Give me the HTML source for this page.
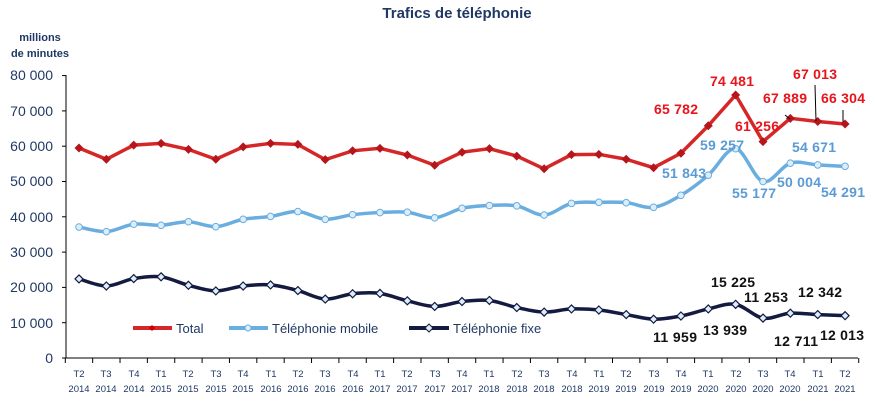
<!DOCTYPE html>
<html><head><meta charset="utf-8"><style>
body{margin:0;background:#fff}
svg{display:block;font-family:"Liberation Sans",sans-serif}
.yt{font-size:14px;fill:#1f3864;text-anchor:end}
.xt{font-size:9.5px;fill:#1f3864;text-anchor:middle}
.r{fill:#e8141c;font-weight:bold;font-size:14px}
.b{fill:#5b9bd5;font-weight:bold;font-size:14px}
.k{fill:#111;font-weight:bold;font-size:14px}
.lg{font-size:13px;fill:#1f3864}
</style></head><body>
<svg id="s" width="875" height="402" viewBox="0 0 875 402">
<text x="457" y="18" text-anchor="middle" font-weight="bold" font-size="15" fill="#1f3864">Trafics de téléphonie</text>
<text x="40" y="41" text-anchor="middle" font-weight="bold" font-size="11" fill="#1f3864">millions</text>
<text x="40" y="57" text-anchor="middle" font-weight="bold" font-size="11" fill="#1f3864">de minutes</text>
<g class="yt">
<text x="53" y="80">80 000</text><text x="53" y="116">70 000</text><text x="53" y="151">60 000</text><text x="53" y="186">50 000</text><text x="53" y="222">40 000</text><text x="53" y="257">30 000</text><text x="53" y="292">20 000</text><text x="53" y="328">10 000</text><text x="53" y="363">0</text>
</g>
<g id="ax" stroke="#000" stroke-width="1"></g>
<g class="xt" id="xl">
<text x="79" y="377">T2</text><text x="106" y="377">T3</text><text x="134" y="377">T4</text><text x="161" y="377">T1</text><text x="188" y="377">T2</text><text x="216" y="377">T3</text><text x="243" y="377">T4</text><text x="271" y="377">T1</text><text x="298" y="377">T2</text><text x="325" y="377">T3</text><text x="353" y="377">T4</text><text x="380" y="377">T1</text><text x="407" y="377">T2</text><text x="435" y="377">T3</text><text x="462" y="377">T4</text><text x="489" y="377">T1</text><text x="517" y="377">T2</text><text x="544" y="377">T3</text><text x="572" y="377">T4</text><text x="599" y="377">T1</text><text x="626" y="377">T2</text><text x="654" y="377">T3</text><text x="681" y="377">T4</text><text x="708" y="377">T1</text><text x="736" y="377">T2</text><text x="763" y="377">T3</text><text x="790" y="377">T4</text><text x="818" y="377">T1</text><text x="845" y="377">T2</text>
<text x="79" y="392">2014</text><text x="106" y="392">2014</text><text x="134" y="392">2014</text><text x="161" y="392">2015</text><text x="188" y="392">2015</text><text x="216" y="392">2015</text><text x="243" y="392">2015</text><text x="271" y="392">2016</text><text x="298" y="392">2016</text><text x="325" y="392">2016</text><text x="353" y="392">2016</text><text x="380" y="392">2017</text><text x="407" y="392">2017</text><text x="435" y="392">2017</text><text x="462" y="392">2017</text><text x="489" y="392">2018</text><text x="517" y="392">2018</text><text x="544" y="392">2018</text><text x="572" y="392">2018</text><text x="599" y="392">2019</text><text x="626" y="392">2019</text><text x="654" y="392">2019</text><text x="681" y="392">2019</text><text x="708" y="392">2020</text><text x="736" y="392">2020</text><text x="763" y="392">2020</text><text x="790" y="392">2020</text><text x="818" y="392">2021</text><text x="845" y="392">2021</text>
</g>
<g id="ser"></g>
<line x1="133" y1="328" x2="172" y2="328" stroke="#d62728" stroke-width="4"/><path d="M152 325l3 3-3 3-3-3z" fill="#c00"/>
<text class="lg" x="176" y="333">Total</text>
<line x1="229" y1="328" x2="268" y2="328" stroke="#6aaee0" stroke-width="4"/><circle cx="248" cy="328" r="3" fill="#dceefa" stroke="#6aaee0"/>
<text class="lg" x="272" y="333">Téléphonie mobile</text>
<line x1="409" y1="328" x2="449" y2="328" stroke="#141a40" stroke-width="4"/><path d="M429 324l4 4-4 4-4-4z" fill="#dceefa" stroke="#141a40"/>
<text class="lg" x="453" y="333">Téléphonie fixe</text>
<g lengthAdjust="spacingAndGlyphs">
<text class="r" x="654" y="114" textLength="44">65 782</text>
<text class="r" x="710" y="86" textLength="44">74 481</text>
<text class="r" x="735" y="131" textLength="44">61 256</text>
<text class="r" x="763" y="103" textLength="44">67 889</text>
<text class="r" x="793" y="79" textLength="44">67 013</text>
<text class="r" x="821" y="103" textLength="44">66 304</text>
<text class="b" x="662" y="178" textLength="44">51 843</text>
<text class="b" x="700" y="150" textLength="44">59 257</text>
<text class="b" x="732" y="198" textLength="44">55 177</text>
<text class="b" x="777" y="187" textLength="44">50 004</text>
<text class="b" x="792" y="152" textLength="44">54 671</text>
<text class="b" x="821" y="197" textLength="44">54 291</text>
<text class="k" x="653" y="342" textLength="44">11 959</text>
<text class="k" x="703" y="335" textLength="44">13 939</text>
<text class="k" x="711" y="287" textLength="44">15 225</text>
<text class="k" x="744" y="302" textLength="44">11 253</text>
<text class="k" x="798" y="297" textLength="44">12 342</text>
<text class="k" x="774" y="346" textLength="44">12 711</text>
<text class="k" x="820" y="340" textLength="44">12 013</text>
</g>
<line x1="785" y1="115" x2="790" y2="119" stroke="#000"/>
<line x1="815" y1="85" x2="816" y2="121" stroke="#000"/>
<line x1="843" y1="110" x2="843" y2="122" stroke="#000"/>
</svg>
<script>
var X=i=>79+27.36*i, Y=v=>358-v*3.53;
var T=[59.5,56.3,60.3,60.8,59.1,56.3,59.8,60.8,60.5,56.2,58.7,59.4,57.5,54.6,58.3,59.3,57.2,53.6,57.6,57.7,56.3,53.9,58.0,65.8,74.5,61.3,67.9,67.0,66.3];
var M=[37.1,35.8,37.9,37.6,38.6,37.2,39.3,40.1,41.5,39.3,40.6,41.2,41.3,39.7,42.4,43.2,43.1,40.5,43.8,44.1,44.0,42.7,46.1,51.8,59.3,50.0,55.2,54.7,54.3];
var F=[22.4,20.4,22.5,23.0,20.6,19.0,20.4,20.7,19.1,16.7,18.2,18.3,16.2,14.6,16.0,16.3,14.3,13.0,13.9,13.6,12.3,11.0,11.9,13.9,15.2,11.3,12.7,12.3,12.0];
var h='';
function smooth(d){var p=d.map((v,i)=>[X(i),Y(v)]);var s='M'+p[0];for(var i=0;i<p.length-1;i++){var a=p[i-1]||p[i],b=p[i],c=p[i+1],e=p[i+2]||c;s+=' C'+(b[0]+(c[0]-a[0])/6)+','+(b[1]+(c[1]-a[1])/6)+' '+(c[0]-(e[0]-b[0])/6)+','+(c[1]-(e[1]-b[1])/6)+' '+c;}return s;}
function poly(d){return 'M'+d.map((v,i)=>X(i)+','+Y(v)).join(' L');}
h+='<path d="'+smooth(F)+'" fill="none" stroke="#141a40" stroke-width="3.5"/>';
F.forEach((v,i)=>{h+='<path d="M'+X(i)+' '+(Y(v)-4)+'l4 4-4 4-4-4z" fill="#dceefa" stroke="#141a40" stroke-width="1.2"/>'});
h+='<path d="'+smooth(M)+'" fill="none" stroke="#6aaee0" stroke-width="3.5"/>';
M.forEach((v,i)=>{h+='<circle cx="'+X(i)+'" cy="'+Y(v)+'" r="3.3" fill="#dceefa" stroke="#6aaee0" stroke-width="1"/>'});
h+='<path d="'+poly(T)+'" fill="none" stroke="#d62728" stroke-width="3.5"/>';
T.forEach((v,i)=>{h+='<path d="M'+X(i)+' '+(Y(v)-4.5)+'l4.5 4.5-4.5 4.5-4.5-4.5z" fill="#b5161c"/>'});
document.getElementById('ser').innerHTML=h;
var a='<line x1="66" y1="75" x2="66" y2="358"/><line x1="66" y1="358" x2="858" y2="358"/>';
for(var k=0;k<=8;k++){var y=358-k*35.3;a+='<line x1="62" y1="'+y+'" x2="66" y2="'+y+'"/>';}
for(var i=0;i<=29;i++){var x=65.3+27.36*i;a+='<line x1="'+x+'" y1="358" x2="'+x+'" y2="363"/>';}
document.getElementById('ax').innerHTML=a;
</script>
</body></html>
